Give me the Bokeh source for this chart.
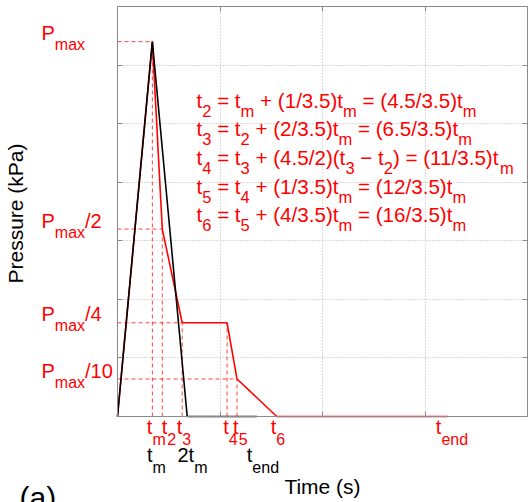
import math
from bokeh.plotting import figure
from bokeh.models import (ColumnDataSource, LabelSet, Label, LinearAxis,
                          FixedTicker, CustomJSTickFormatter, Range1d, Grid)
from bokeh.core.properties import value
from bokeh.embed import file_html
from bokeh.resources import INLINE

# ---------------- data ----------------
tm = 3.4
t2 = 4.37
t3 = 6.31
t4 = 10.69
t5 = 11.66
t6 = 15.54
t_end_red = 32.2
two_tm = 6.8
t_end_black = 13.6
p_max = 6.4
p_half = 3.2
p_quarter = 1.6
p_tenth = 0.64

red_t = [0, tm, t2, t3, t4, t5, t6, t_end_red]
red_p = [0, p_max, p_half, p_quarter, p_quarter, p_tenth, 0, 0]
black_t = [0, tm, two_tm, t_end_black]
black_p = [0, p_max, 0, 0]

# dashed guides
h_levels = [p_max, p_half, p_quarter, p_tenth]
h_ends = [tm, t2, t3, t5]
v_times = [tm, t2, t3, t4, t5]
v_tops = [p_max, p_half, p_quarter, p_quarter, p_tenth]

x_min, x_max = 0, 40
y_min, y_max = 0, 7
x_grid = [10, 20, 30]
y_grid = [1, 2, 3, 4, 5, 6]
x_ticks = [0, 10, 20, 30, 40]
y_ticks = [0, 1, 2, 3, 4, 5, 6, 7]

# label texts: list of (text, is_subscript)
left_label_levels = [p_max, p_half, p_quarter, p_tenth]
left_label_runs = [
    [("P", 0), ("max", 1)],
    [("P", 0), ("max", 1), ("/2", 0)],
    [("P", 0), ("max", 1), ("/4", 0)],
    [("P", 0), ("max", 1), ("/10", 0)],
]
red_tick_times = [tm, t2, t3, t4, t5, t6, t_end_red]
red_tick_runs = [
    [("t", 0), ("m", 1)], [("t", 0), ("2", 1)], [("t", 0), ("3", 1)],
    [("t", 0), ("4", 1)], [("t", 0), ("5", 1)], [("t", 0), ("6", 1)],
    [("t", 0), ("end", 1)],
]
black_tick_times = [tm, two_tm, t_end_black]
black_tick_runs = [
    [("t", 0), ("m", 1)], [("2t", 0), ("m", 1)], [("t", 0), ("end", 1)],
]
equations = [
    [("t", 0), ("2", 1), (" = t", 0), ("m", 1), (" + (1/3.5)t", 0), ("m", 1),
     (" = (4.5/3.5)t", 0), ("m", 1)],
    [("t", 0), ("3", 1), (" = t", 0), ("2", 1), (" + (2/3.5)t", 0), ("m", 1),
     (" = (6.5/3.5)t", 0), ("m", 1)],
    [("t", 0), ("4", 1), (" = t", 0), ("3", 1), (" + (4.5/2)(t", 0), ("3", 1),
     (" \u2212 t", 0), ("2", 1), (") = (11/3.5)t", 0), ("m", 1)],
    [("t", 0), ("5", 1), (" = t", 0), ("4", 1), (" + (1/3.5)t", 0), ("m", 1),
     (" = (12/3.5)t", 0), ("m", 1)],
    [("t", 0), ("6", 1), (" = t", 0), ("5", 1), (" + (4/3.5)t", 0), ("m", 1),
     (" = (16/3.5)t", 0), ("m", 1)],
]

# ---------------- styling / layout ----------------
RED = "#ff0000"
FONT = "Liberation Sans"
AX = "#8a8a8a"
F_MAIN = 20
F_SUB = 16
E_MAIN = 20.6
E_SUB = 16.5

W_PX, H_PX = 528, 502
FRAME_L, FRAME_R, FRAME_T, FRAME_B = 117, 527, 6, 416   # canvas px of the data box
kx = (FRAME_R - FRAME_L) / (x_max - x_min)
ky = (FRAME_B - FRAME_T) / (y_max - y_min)
xr = Range1d(x_min - FRAME_L / kx, x_max + (W_PX - FRAME_R) / kx)
yr = Range1d(y_min - (H_PX - FRAME_B) / ky, y_max + FRAME_T / ky)

W = {'t': 278, 'm': 833, 'e': 556, 'n': 556, 'd': 556, 'a': 556, 'x': 500,
     'P': 667, '(': 333, ')': 333, '/': 278, '.': 278, ' ': 278, '=': 584,
     '+': 584, '\u2212': 584}
for c in "0123456789":
    W[c] = 556


def text_width(s, size):
    return sum(W.get(c, 556) for c in s) / 1000.0 * size


p = figure(width=W_PX, height=H_PX, x_range=xr, y_range=yr,
           x_axis_location=None, y_axis_location=None,
           output_backend="svg", toolbar_location=None,
           min_border=0, min_border_left=0, min_border_right=0,
           min_border_top=0, min_border_bottom=0,
           background_fill_color="white", border_fill_color="white")
p.outline_line_color = None
for g in p.grid:
    g.visible = False

# grid (dotted), limited to the data box
if "cross_bounds" in Grid.properties():
    p.add_layout(Grid(dimension=0, ticker=FixedTicker(ticks=x_grid),
                      cross_bounds=(y_min, y_max), grid_line_color="#b4b4b4",
                      grid_line_dash="1 2"))
    p.add_layout(Grid(dimension=1, ticker=FixedTicker(ticks=y_grid),
                      cross_bounds=(x_min, x_max), grid_line_color="#b4b4b4",
                      grid_line_dash="1 2"))
else:
    p.segment(x0=x_grid, y0=[y_min] * len(x_grid), x1=x_grid,
              y1=[y_max] * len(x_grid), line_color="#b4b4b4", line_dash="1 2")
    p.segment(x0=[x_min] * len(y_grid), y0=y_grid, x1=[x_max] * len(y_grid),
              y1=y_grid, line_color="#b4b4b4", line_dash="1 2")

blank = CustomJSTickFormatter(code="return ''")
axes = [
    (LinearAxis(fixed_location=x_min, bounds=(y_min, y_max),
                ticker=FixedTicker(ticks=y_ticks)), "left"),
    (LinearAxis(fixed_location=x_max, bounds=(y_min, y_max),
                ticker=FixedTicker(ticks=y_ticks)), "right"),
    (LinearAxis(fixed_location=y_min, bounds=(x_min, x_max),
                ticker=FixedTicker(ticks=x_ticks)), "below"),
    (LinearAxis(fixed_location=y_max, bounds=(x_min, x_max),
                ticker=FixedTicker(ticks=x_ticks)), "above"),
]
for ax, side in axes:
    ax.formatter = blank
    ax.axis_line_color = AX
    ax.major_tick_line_color = AX
    ax.major_tick_in = 5
    ax.major_tick_out = 0
    ax.minor_tick_line_color = None
    ax.major_label_standoff = 0
    p.add_layout(ax, side)

# dashed guides
p.segment(x0=[0] * len(h_levels), y0=h_levels, x1=h_ends, y1=h_levels,
          line_color=RED, line_dash="4 3", line_width=1, line_alpha=0.75)
p.segment(x0=v_times, y0=[0] * len(v_times), x1=v_times, y1=v_tops,
          line_color=RED, line_dash="4 3", line_width=1, line_alpha=0.75)

p.line(red_t, red_p, line_color=RED, line_width=1.6)
p.line(black_t, black_p, line_color="black", line_width=1.6)

# ---------------- text runs ----------------
groups = {}


def add_runs(x, y, runs, dx, dy_down, fmain, fsub, sub_drop, color):
    pos = dx
    for txt, sub in runs:
        size = fsub if sub else fmain
        lead = len(txt) - len(txt.lstrip(" "))
        core = txt.strip(" ")
        if core:
            g = groups.setdefault((color, size),
                                  dict(x=[], y=[], text=[], xo=[], yo=[]))
            g["x"].append(x)
            g["y"].append(y)
            g["text"].append(core)
            g["xo"].append(pos + lead * 0.278 * size)
            g["yo"].append(-(dy_down + (sub_drop if sub else 0)))
        pos += text_width(txt, size)


for lvl, runs in zip(left_label_levels, left_label_runs):
    add_runs(x_min, lvl, runs, -76, -1.5, F_MAIN, F_SUB, 10, RED)

red_dx = [-5.5, -0.5, -5.4, -3.9, -3.9, -6, -11.7]
for t, runs, dx in zip(red_tick_times, red_tick_runs, red_dx):
    add_runs(t, y_min, runs, dx, 17, F_MAIN, F_SUB, 11, RED)

black_dx = [-5.3, -9.7, -10.1]
for t, runs, dx in zip(black_tick_times, black_tick_runs, black_dx):
    add_runs(t, y_min, runs, dx, 45, F_MAIN, F_SUB, 11, "black")

for i, runs in enumerate(equations):
    add_runs(x_min, y_max, runs, 79, 101 + 28.7 * i, E_MAIN, E_SUB, 9, RED)

for (color, size), g in groups.items():
    src = ColumnDataSource(g)
    p.add_layout(LabelSet(x="x", y="y", text="text", x_offset="xo",
                          y_offset="yo", source=src, text_color=color,
                          text_font=value(FONT), text_font_size=f"{size}px",
                          text_align="left", text_baseline="alphabetic"))

p.add_layout(Label(x=x_min, y=3.5, x_offset=-102, y_offset=-2,
                   text="Pressure (kPa)", angle=math.pi / 2, text_font=FONT,
                   text_font_size="21px", text_color="black",
                   text_align="center", text_baseline="alphabetic"))
p.add_layout(Label(x=20, y=y_min, y_offset=-70, text="Time (s)", text_font=FONT,
                   text_font_size="21px", text_color="black",
                   text_align="center", text_baseline="alphabetic"))
p.add_layout(Label(x=x_min, y=y_min, x_offset=-98, y_offset=-81, text="(a)",
                   text_font=FONT, text_font_size="30px", text_color="black",
                   text_align="left", text_baseline="alphabetic"))

open("out.html", "w").write(file_html(p, INLINE))
